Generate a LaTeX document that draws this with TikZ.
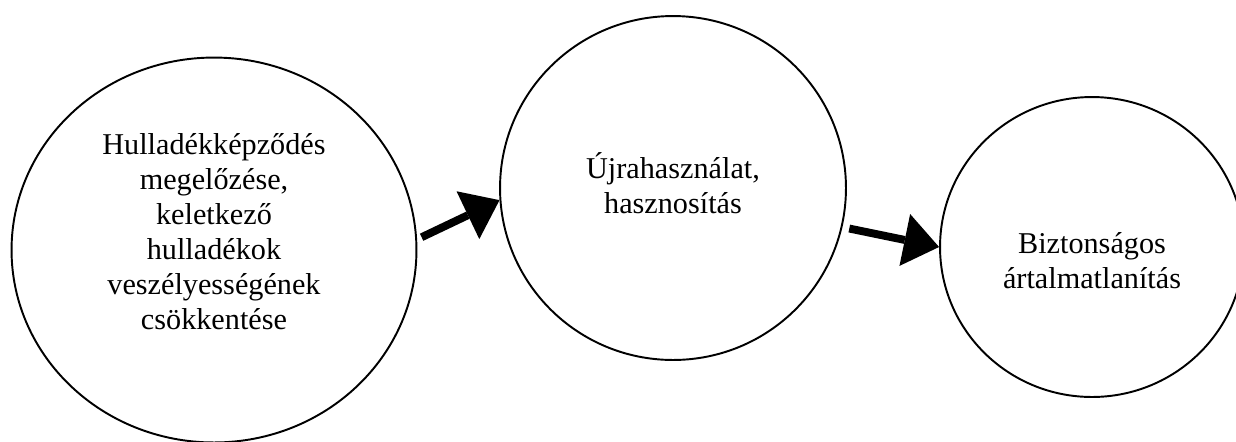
\documentclass[tikz,border=0pt]{standalone}
\usepackage{fontspec}
\setmainfont{Liberation Serif}
\usetikzlibrary{shapes.geometric,arrows.meta}
\begin{document}
\begin{tikzpicture}[x=0.02cm,y=-0.02cm,
  stage/.style={ellipse,draw,line width=1.1pt,inner sep=0pt},
  stagetext/.style={align=center,font=\fontsize{17.2}{19.9}\selectfont},
  bigarrow/.style={line width=4.5pt,-{Triangle[length=7mm,width=10.6mm,line width=0pt]}}]
  \useasboundingbox[fill=white] (0,0) rectangle (1236,441);

  \foreach \name/\x/\y/\w/\h in {prev/214/250/8.1/7.7,reuse/673/188/6.92/6.88,disp/1092/247/6.08/6.0}
     \node [stage,minimum width=\w cm,minimum height=\h cm] (\name) at (\x,\y) {};

  \node [stagetext] (prevtext) at ([yshift=0.36cm]prev.center)
    {Hulladékképződés\\megelőzése,\\keletkező\\hulladékok\\veszélyességének\\csökkentése};
  \node [stagetext] (reusetext) at ([yshift=0.1cm]reuse.center)
    {Újrahasználat,\\hasznosítás};
  \node [stagetext] (disptext) at ([yshift=-0.28cm]disp.center)
    {Biztonságos\\ártalmatlanítás};

  \draw [bigarrow,shorten <=0.1cm] (prev.3) -- (reuse.184);
  \draw [bigarrow,shorten <=0.14cm] (reuse.-13) -- (disp.180);

\end{tikzpicture}
\end{document}
